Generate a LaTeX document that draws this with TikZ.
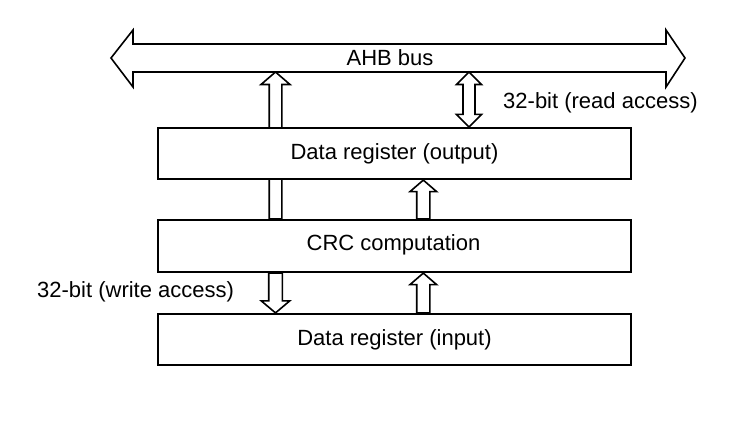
\documentclass[tikz,border=0pt]{standalone}
\usepackage{fontspec}
\setmainfont{Liberation Sans}
\usetikzlibrary{calc,backgrounds}
\tikzset{
  fatline/.style={draw=black, line width=1.6pt, fill=white, line join=miter},
  regbox/.style={draw=black, line width=2.2pt, fill=white, minimum width=473pt, inner sep=0pt},
  lbl/.style={inner sep=0pt, font=\fontsize{22}{26}\selectfont},
}
% vertical hollow arrow: start, end, half shaft, half head, head length
\newcommand\fatarr[5]{%
  \draw[fatline] let \p1=(#1), \p2=(#2), \n1={ifthenelse(\y2>\y1,1,-1)} in
    ({\x1-#3pt},\y1) -- ({\x1-#3pt},{\y2-\n1*#5pt}) -- ({\x1-#4pt},{\y2-\n1*#5pt})
    -- (\x1,\y2) -- ({\x1+#4pt},{\y2-\n1*#5pt}) -- ({\x1+#3pt},{\y2-\n1*#5pt})
    -- ({\x1+#3pt},\y1) -- cycle;}
\begin{document}
\begin{tikzpicture}[x=1pt, y=-1pt]
\useasboundingbox (0,0) rectangle (751,432);
% AHB bus
\draw[fatline] (111,58) -- (133,30) -- (133,44) -- (666,44) -- (666,30) -- (685,58)
  -- (666,87) -- (666,72) -- (133,72) -- (133,87) -- cycle;
\node[lbl] (bus) at (390,58) {AHB bus};
\coordinate (busS) at (398,72);
\coordinate (xA) at (275.5,0);
\coordinate (xB) at (469,0);
\coordinate (xC) at (423.3,0);
% registers
\node[regbox, minimum height=51pt] (out) at (394.5,153.5) {};
\node[lbl] (outt) at (394.5,153.5) {Data register (output)};
\node[regbox, minimum height=52pt] (crc) at (394.5,246) {};
\node[lbl] (crct) at (393.5,245) {CRC computation};
\node[regbox, minimum height=51pt] (in) at (394.5,339.5) {};
\node[lbl] (int) at (394.5,340) {Data register (input)};
% CRC -> AHB bus (passes behind output register)
\begin{scope}[on background layer]
  \fill[white] (0,0) rectangle (751,432);
  \fatarr{xA |- crc.north}{xA |- busS}{6.3}{14.5}{12.5}
\end{scope}
% bidirectional read access
\draw[fatline] let \p1=(xB |- busS), \p2=(xB |- out.north) in
  ({\x1-6pt},{\y1-12.5pt}) -- ({\x1-12.5pt},{\y1-12.5pt}) -- (\x1,\y1)
  -- ({\x1+12.5pt},{\y1-12.5pt}) -- ({\x1+6pt},{\y1-12.5pt})
  -- ({\x1+6pt},{\y2+12.5pt}) -- ({\x1+12.5pt},{\y2+12.5pt}) -- (\x1,\y2)
  -- ({\x1-12.5pt},{\y2+12.5pt}) -- ({\x1-6pt},{\y2+12.5pt}) -- cycle;
\node[lbl, anchor=west] (rd) at (503,103) {32-bit (read access)};
% CRC -> output register
\fatarr{xC |- crc.north}{xC |- out.south}{6.6}{13.3}{11.5}
% write access: CRC -> input register
\fatarr{xA |- crc.south}{xA |- in.north}{6.8}{14.2}{12}
\node[lbl, anchor=west] (wr) at (37,292) {32-bit (write access)};
% input register -> CRC
\fatarr{xC |- in.north}{xC |- crc.south}{6.6}{13.3}{11.5}
\end{tikzpicture}
\end{document}
